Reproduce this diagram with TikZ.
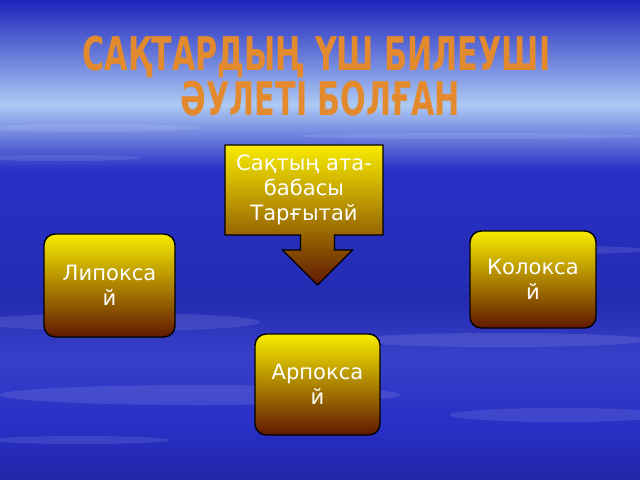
\documentclass[tikz,border=0pt]{standalone}
\usepackage{fontspec}
\setmainfont{DejaVu Sans}
\usetikzlibrary{positioning,backgrounds}
\definecolor{skyDeep}{RGB}{28,36,188}
\definecolor{skyMid}{RGB}{70,105,222}
\definecolor{skyPale}{RGB}{172,202,244}
\definecolor{skyBlue}{RGB}{40,48,198}
\definecolor{skyCloud}{RGB}{118,128,214}
\definecolor{skyLow}{RGB}{34,38,168}
\definecolor{boxTop}{RGB}{248,236,0}
\definecolor{boxMid}{RGB}{178,122,8}
\definecolor{boxLow}{RGB}{96,24,2}
\definecolor{titleOrange}{RGB}{228,138,46}
\tikzset{
    kinBox/.style={draw=black, line width=1pt, rounded corners=8pt,
        top color=boxTop, middle color=boxMid, bottom color=boxLow,
        text=white, align=center, font=\fontsize{15}{18}\selectfont, outer sep=0pt},
    titleLine/.style={text=titleOrange, font=\fontsize{33}{36}\bfseries\selectfont, inner sep=0pt, anchor=base},
    streak/.style={white, opacity=0.1},
}
\begin{document}
\begin{tikzpicture}[x=0.025cm, y=-0.025cm]
    \useasboundingbox (0,0) rectangle (640,480);
    % title
    \node[titleLine] (title1) at (316.5,70) {\scalebox{0.65}[1]{САҚТАРДЫҢ ҮШ БИЛЕУШІ}};
    \node[titleLine] (title2) at (320.5,115) {\scalebox{0.65}[1]{ӘУЛЕТІ БОЛҒАН}};
    % ancestor and the three lines
    \node[align=center, text=white, font=\fontsize{15}{18}\selectfont, outer sep=0pt,
          minimum width=3.95cm, minimum height=2.25cm] (ancestor) at (304,190) {Сақтың ата-\\бабасы\\Тарғытай};
    \coordinate (tip) at (317.5,285);
    \node[kinBox, minimum width=3.275cm, minimum height=2.575cm] (lipo) at (109.5,285.5) {Липокса\\й};
    \node[kinBox, minimum width=3.15cm, minimum height=2.425cm] (kolo) at (533,279.5) {Колокса\\й};
    \node[kinBox, minimum width=3.125cm, minimum height=2.525cm] (arpo) at (317.5,384.5) {Арпокса\\й};
    \begin{scope}[on background layer]
        % sky
        \shade[top color=skyDeep, middle color=skyMid, bottom color=skyPale] (0,0) rectangle (640,105);
        \shade[top color=skyPale, middle color=skyMid!70!skyBlue, bottom color=skyBlue] (0,105) rectangle (640,170);
        \shade[top color=skyBlue, bottom color=skyBlue!90!black] (0,170) rectangle (640,300);
        \shade[top color=skyBlue!90!black, middle color=skyCloud, bottom color=skyBlue!80!skyCloud] (0,300) rectangle (640,355);
        \shade[top color=skyBlue!80!skyCloud, middle color=skyCloud, bottom color=skyBlue] (0,355) rectangle (640,425);
        \shade[top color=skyBlue, bottom color=skyLow] (0,425) rectangle (640,480);
        \fill[streak] (90,128) ellipse [x radius=110, y radius=4];
        \fill[streak] (470,136) ellipse [x radius=170, y radius=3];
        \fill[streak] (60,158) ellipse [x radius=80, y radius=3];
        \fill[streak] (560,250) ellipse [x radius=90, y radius=4];
        \fill[streak] (120,322) ellipse [x radius=140, y radius=9];
        \fill[streak] (500,340) ellipse [x radius=150, y radius=7];
        \fill[streak] (200,395) ellipse [x radius=200, y radius=10];
        \fill[streak] (560,415) ellipse [x radius=110, y radius=7];
        \fill[streak] (80,440) ellipse [x radius=90, y radius=4];
        % callout under the ancestor text
        \draw[line width=1pt, top color=boxTop, middle color=boxMid!90!boxTop, bottom color=boxLow]
            (ancestor.north west) -- (ancestor.north east) -- (ancestor.south east)
            -- ([shift={(17,-50)}]tip) -- ([shift={(17,-35)}]tip) -- ([shift={(35,-35)}]tip)
            -- (tip)
            -- ([shift={(-35,-35)}]tip) -- ([shift={(-17,-35)}]tip) -- ([shift={(-17,-50)}]tip)
            -- (ancestor.south west) -- cycle;
    \end{scope}
\end{tikzpicture}
\end{document}
